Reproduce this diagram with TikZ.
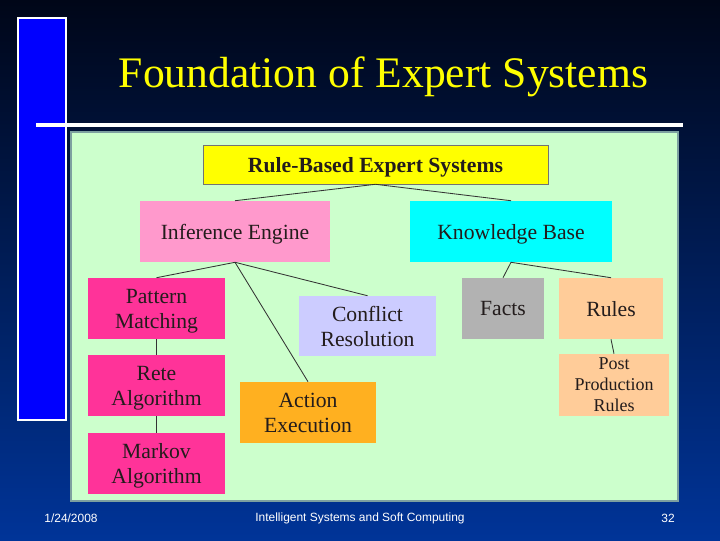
\documentclass[tikz,border=0pt]{standalone}
\usepackage{fontspec}
\setmainfont{Liberation Serif}
\setsansfont{Liberation Sans}

\definecolor{bgtop}{RGB}{0,6,24}
\definecolor{bgmid}{RGB}{0,42,128}
\definecolor{bgbot}{RGB}{0,52,152}
\definecolor{barblue}{RGB}{0,0,255}
\definecolor{panelgreen}{RGB}{204,255,204}
\definecolor{panelrim}{RGB}{125,160,160}
\definecolor{titleyellow}{RGB}{255,255,0}
\definecolor{ruleyellow}{RGB}{255,255,0}
\definecolor{lightpink}{RGB}{255,153,204}
\definecolor{deeppink}{RGB}{255,51,153}
\definecolor{kbcyan}{RGB}{0,255,255}
\definecolor{lavender}{RGB}{204,204,255}
\definecolor{factgray}{RGB}{178,178,178}
\definecolor{peach}{RGB}{255,204,153}
\definecolor{actorange}{RGB}{255,176,32}
\definecolor{boxtext}{RGB}{35,28,28}

\begin{document}
\begin{tikzpicture}[x=0.025cm,y=-0.025cm,
  box/.style={inner sep=0pt, align=center, text=boxtext, minimum height=1.525cm,
    text depth=0pt, font=\fontsize{15.4}{17.8}\selectfont},
  link/.style={draw=black!80, line width=0.6pt}]

% background
\useasboundingbox (0,0) rectangle (720,540);
\shade[top color=bgtop, middle color=bgmid, bottom color=bgbot] (0,0) rectangle (720,540);
\draw[draw=white, line width=1pt, fill=barblue] (18,18) rectangle (66,420);
\draw[white, line width=2.8pt] (36,125) -- (683,125);
\draw[draw=panelrim, line width=1.4pt, fill=panelgreen] (71,132) rectangle (678,501);

% title
\node[anchor=base, text=titleyellow, font=\fontsize{31}{36}\selectfont] (title) at (383.5,87) {Foundation of Expert Systems};

% boxes
\node[box, fill=ruleyellow, draw=black!55, minimum width=8.625cm, minimum height=0.975cm,
  font=\fontsize{15.4}{17.8}\selectfont\bfseries] (rbes) at (375.5,164.5) {Rule-Based Expert Systems};
\node[box, fill=lightpink, minimum width=4.75cm] (ie) at (235,231.5) {Inference Engine};
\node[box, fill=kbcyan, minimum width=5.05cm] (kb) at (511,231.5) {Knowledge Base};
\node[box, fill=deeppink, minimum width=3.425cm] (pm) at (156.5,308.5) {Pattern\\Matching};
\node[box, fill=lavender, minimum width=3.425cm, minimum height=1.5cm] (cr) at (367.5,326) {Conflict\\Resolution};
\node[box, fill=factgray, minimum width=2.05cm] (facts) at (503,308.5) {Facts};
\node[box, fill=peach, minimum width=2.6cm] (rules) at (611,308.5) {Rules};
\node[box, fill=deeppink, minimum width=3.425cm] (rete) at (156.5,385.5) {Rete\\Algorithm};
\node[box, fill=actorange, minimum width=3.4cm] (ae) at (308,412.5) {Action\\Execution};
\node[box, fill=peach, minimum width=2.75cm, minimum height=1.55cm,
  font=\fontsize{12.8}{15}\selectfont] (ppr) at (614,385) {Post\\Production\\Rules};
\node[box, fill=deeppink, minimum width=3.425cm] (mk) at (156.5,463.5) {Markov\\Algorithm};

% links
\draw[link] (rbes.south) -- (ie.north);
\draw[link] (rbes.south) -- (kb.north);
\draw[link] (ie.south) -- (pm.north);
\draw[link] (ie.south) -- (cr.north);
\draw[link] (ie.south) -- (ae.north);
\draw[link] (pm.south) -- (rete.north);
\draw[link] (rete.south) -- (mk.north);
\draw[link] (kb.south) -- (facts.north);
\draw[link] (kb.south) -- (rules.north);
\draw[link] (rules.south) -- (ppr.north);

% footer
\node[text=white, font=\sffamily\fontsize{8.5}{10}\selectfont] (date) at (71,518) {1/24/2008};
\node[text=white, font=\sffamily\fontsize{8.5}{10}\selectfont] (course) at (360,518) {Intelligent Systems and Soft Computing};
\node[text=white, font=\sffamily\fontsize{8.5}{10}\selectfont] (page) at (668,518) {32};
\end{tikzpicture}
\end{document}
